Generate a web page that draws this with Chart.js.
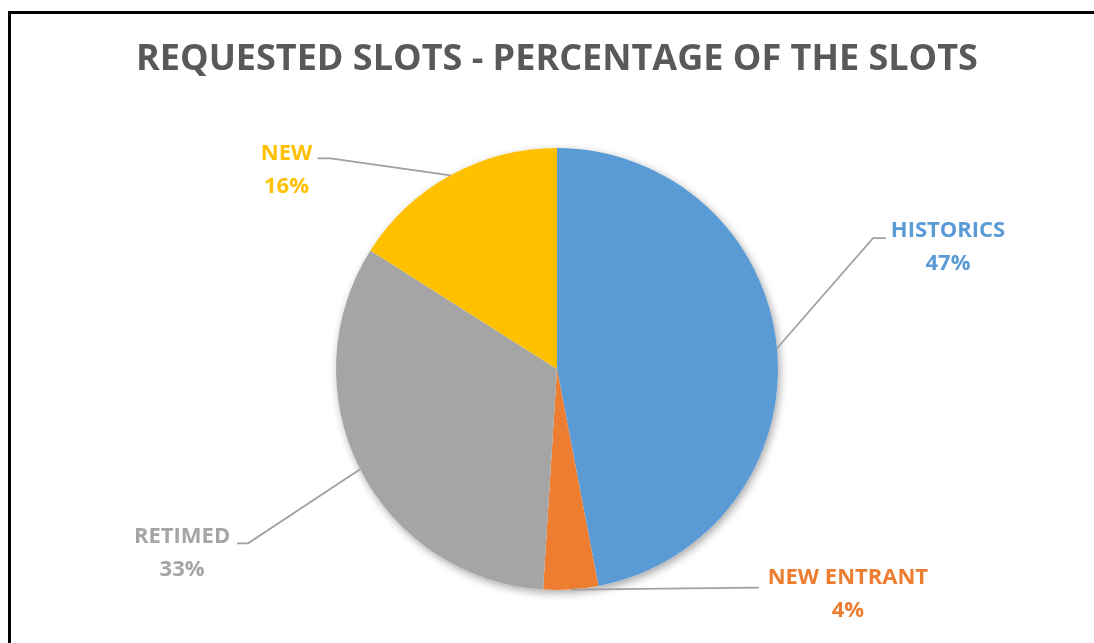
<!DOCTYPE html>
<html>
<head>
<meta charset="utf-8">
<script src="https://cdn.jsdelivr.net/npm/chart.js@4.4.1/dist/chart.umd.min.js"></script>
<style>
  html, body { margin: 0; padding: 0; background: #fff; overflow: hidden; }
  #wrap { position: relative; width: 1094px; height: 643px; overflow: hidden; }
  canvas { position: absolute; left: 0; top: 0; }
</style>
</head>
<body>
<div id="wrap">
  <canvas id="pie" width="1094" height="643"></canvas>
</div>
<script>
// data
const categories = ['HISTORICS', 'NEW ENTRANT', 'RETIMED', 'NEW'];
const percentages = [47, 4, 33, 16];
const sliceColors = ['#5B9BD5', '#ED7D31', '#A5A5A5', '#FFC000'];

const titleText = 'REQUESTED SLOTS - PERCENTAGE OF THE SLOTS';
const FONT = '"Open Sans", "Noto Sans", sans-serif';

// label layout, relative to the slice's outer mid point: elbow, line end, label centre
const calloutLayout = [
  { elbow: [96, -110], end: [109, -110], text: [171, -101] },
  { elbow: null,       end: [188, -2],   text: [277, 4] },
  { elbow: [-112, 74], end: [-123, 74],  text: [-178, 83] },
  { elbow: [-120, -17], end: [-133, -17], text: [-164, -6] }
];

const frame = {
  id: 'frame',
  beforeDraw(chart) {
    const ctx = chart.ctx;
    ctx.save();
    ctx.strokeStyle = '#000';
    ctx.lineWidth = 3;
    ctx.beginPath();
    ctx.moveTo(9.5, chart.height + 5);
    ctx.lineTo(9.5, 12.5);
    ctx.lineTo(chart.width + 5, 12.5);
    ctx.stroke();
    ctx.restore();
  }
};

const pieShadow = {
  id: 'pieShadow',
  beforeDatasetsDraw(chart) {
    const arc = chart.getDatasetMeta(0).data[0];
    if (!arc) return;
    const { x, y, outerRadius } = arc.getProps(['x', 'y', 'outerRadius'], true);
    const ctx = chart.ctx;
    ctx.save();
    ctx.shadowColor = 'rgba(0,0,0,0.35)';
    ctx.shadowBlur = 9;
    ctx.shadowOffsetX = 2;
    ctx.shadowOffsetY = 3;
    ctx.fillStyle = '#fff';
    ctx.beginPath();
    ctx.arc(x, y, outerRadius, 0, Math.PI * 2);
    ctx.fill();
    ctx.restore();
  }
};

const callouts = {
  id: 'callouts',
  afterDatasetsDraw(chart) {
    const ctx = chart.ctx;
    const meta = chart.getDatasetMeta(0);
    meta.data.forEach((arc, i) => {
      const p = arc.getProps(['x', 'y', 'startAngle', 'endAngle', 'outerRadius'], true);
      const mid = (p.startAngle + p.endAngle) / 2;
      const ax = p.x + Math.cos(mid) * p.outerRadius;
      const ay = p.y + Math.sin(mid) * p.outerRadius;
      const lay = calloutLayout[i];
      ctx.save();
      ctx.strokeStyle = '#A0A0A0';
      ctx.lineWidth = 1.75;
      ctx.beginPath();
      ctx.moveTo(ax, ay);
      if (lay.elbow) ctx.lineTo(ax + lay.elbow[0], ay + lay.elbow[1]);
      ctx.lineTo(ax + lay.end[0], ay + lay.end[1]);
      ctx.stroke();

      ctx.fillStyle = sliceColors[i];
      ctx.font = 'bold 22px ' + FONT;
      ctx.textAlign = 'center';
      ctx.textBaseline = 'middle';
      const tx = ax + lay.text[0], ty = ay + lay.text[1];
      ctx.fillText(categories[i], tx, ty - 16);
      ctx.fillText(percentages[i] + '%', tx, ty + 17);
      ctx.restore();
    });
  }
};

const chartTitle = {
  id: 'chartTitle',
  afterDraw(chart) {
    const ctx = chart.ctx;
    ctx.save();
    ctx.fillStyle = '#595959';
    ctx.font = 'bold 36px ' + FONT;
    ctx.textAlign = 'center';
    ctx.textBaseline = 'middle';
    ctx.fillText(titleText, 557, 60);
    ctx.restore();
  }
};

new Chart(document.getElementById('pie'), {
  type: 'pie',
  data: {
    labels: categories,
    datasets: [{
      data: percentages,
      backgroundColor: sliceColors,
      borderWidth: 0
    }]
  },
  options: {
    responsive: false,
    animation: false,
    layout: { padding: { top: 148, bottom: 53, left: 336, right: 316 } },
    plugins: {
      legend: { display: false },
      title: { display: false },
      tooltip: { enabled: false }
    }
  },
  plugins: [frame, pieShadow, callouts, chartTitle]
});
</script>
</body>
</html>
